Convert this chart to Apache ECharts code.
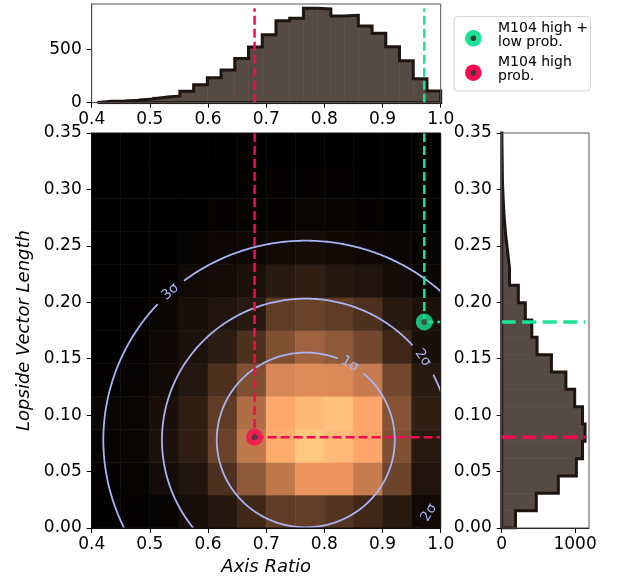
<!DOCTYPE html>
<html><head><meta charset="utf-8">
<script src="https://cdn.jsdelivr.net/npm/echarts@6/dist/echarts.min.js"></script>
<style>html,body{margin:0;padding:0;background:#fff}#c{width:617px;height:583px}</style>
</head><body><div id="c"></div>
<script>
// ---------------- data ----------------
const xBinStarts = [0.40,0.45,0.50,0.55,0.60,0.65,0.70,0.75,0.80,0.85,0.90,0.95];
const xBinWidth = 0.05;
const yBinStarts = [0,0.029167,0.058333,0.0875,0.116667,0.145833,0.175,0.204167,0.233333,0.2625,0.291667,0.320833];
const yBinWidth = 0.029167;
// normalised 2D density, rows from bottom (y=0) to top
const densityRow0  = [0.005,0.01,0.02,0.07,0.12,0.20,0.30,0.31,0.26,0.20,0.13,0.05];
const densityRow1  = [0.01,0.02,0.06,0.10,0.24,0.45,0.60,0.75,0.75,0.62,0.34,0.10];
const densityRow2  = [0.02,0.03,0.09,0.15,0.33,0.60,0.86,1.00,0.94,0.83,0.40,0.13];
const densityRow3  = [0.03,0.03,0.08,0.15,0.30,0.55,0.85,0.93,0.97,0.83,0.42,0.15];
const densityRow4  = [0.01,0.02,0.05,0.11,0.24,0.40,0.68,0.70,0.69,0.62,0.36,0.13];
const densityRow5  = [0.00,0.01,0.04,0.09,0.14,0.24,0.40,0.50,0.45,0.36,0.19,0.08];
const densityRow6  = [0.005,0.01,0.03,0.08,0.10,0.13,0.30,0.33,0.30,0.24,0.13,0.09];
const densityRow7  = [0,0.005,0.015,0.05,0.06,0.09,0.13,0.15,0.12,0.10,0.06,0.03];
const densityRow8  = [0,0,0.005,0.02,0.04,0.04,0.05,0.06,0.05,0.04,0.03,0.02];
const densityRow9  = [0,0,0,0.005,0.015,0.02,0.015,0.025,0.02,0.015,0.005,0.005];
const densityRow10 = [0,0,0,0,0.005,0.005,0.015,0.015,0.01,0.005,0,0];
const densityRow11 = [0,0,0,0,0,0,0.003,0.003,0,0,0,0];
const densityRows = [densityRow0,densityRow1,densityRow2,densityRow3,densityRow4,densityRow5,
  densityRow6,densityRow7,densityRow8,densityRow9,densityRow10,densityRow11];

const topHistEdges = [0.410,0.4336,0.4572,0.4808,0.5044,0.528,0.5516,0.5752,0.5988,0.6224,0.646,0.6696,
  0.6932,0.7168,0.7404,0.764,0.7876,0.8112,0.8348,0.8584,0.882,0.9056,0.9292,0.9528,0.9764,1.000];
const topHistCounts = [14,16,24,36,52,64,108,168,234,307,417,524,640,772,794,889,882,816,822,722,653,526,394,225,111];

const rightHistEdges = [0,0.01536,0.03072,0.04608,0.06144,0.0768,0.09216,0.10752,0.12288,0.13824,0.1536,
  0.16896,0.18432,0.19968,0.21504,0.2304,0.24576,0.26112,0.27648,0.29184,0.3072,0.32256,0.33792,0.35328,0.36864];
const rightHistCounts = [188,472,772,1018,1102,1136,1102,995,875,678,482,410,322,227,106,79,52,32,20,10,7,4,2,1];

const pointHighLow = [0.9718, 0.1825];   // M104 high + low prob.
const pointHigh = [0.68, 0.0804];        // M104 high prob.
const seriesNames = ['M104 high +\nlow prob.', 'M104 high\nprob.'];

const contourCenter = [0.768, 0.078];
const contourLevels = ['1σ','2σ','3σ'];
const contourRx = [0.153, 0.2472, 0.348];
const contourRy = [0.0774, 0.1252, 0.1766];
const contourLabelAngles = [[60.4],[35.5,-31],[132]];
const contourGaps = [[[49.5,69]],[[27.7,42],[-38.5,-20]],[[127,137]]];

const axisRatioTicks = [0.4,0.5,0.6,0.7,0.8,0.9,1.0];
const lopsideTicks = [0,0.05,0.10,0.15,0.20,0.25,0.30,0.35];
const topCountTicks = [0,500];
const rightCountTicks = [0,1000];

// ---------------- styling / layout ----------------
const FONT = 'DejaVu Sans';
const RED = '#f70b50', GREEN = '#1ae394', CONTOUR = '#a9b3f3';
const HIST_FILL = '#564a44', HIST_EDGE = '#1c1512';
const G = {
  main:  {left:91.7, top:133, width:349, height:395},
  top:   {left:91.7, top:4, width:349, height:98.7},
  right: {left:501.7, top:133, width:87.3, height:395}
};
const boxOf = g => ({x:g.left, y:g.top, width:g.width, height:g.height});

function copper(v){
  v = Math.max(0, Math.min(1, v));
  const r = Math.round(255*Math.min(1, 1.25*v)), g = Math.round(255*0.7812*v), b = Math.round(255*0.4975*v);
  return 'rgb('+r+','+g+','+b+')';
}

function axis(extra){
  const base = {
    type:'value',
    axisLine:{show:true, onZero:false, lineStyle:{color:'#000', width:1}},
    axisTick:{show:true, inside:false, length:5, lineStyle:{color:'#000', width:1}},
    axisLabel:{color:'#000', fontSize:17, fontFamily:FONT, margin:8},
    splitLine:{show:false}
  };
  const o = Object.assign({}, base, extra);
  o.axisTick = Object.assign({}, base.axisTick, extra.axisTick||{});
  o.axisLabel = Object.assign({}, base.axisLabel, extra.axisLabel||{});
  return o;
}

function clipTo(params){
  const cs = params.coordSys;
  return {type:'rect', shape:{x:cs.x, y:cs.y, width:cs.width, height:cs.height}};
}

// heatmap cells
const cellData = [];
densityRows.forEach((row, j) => row.forEach((v, i) => cellData.push([xBinStarts[i], yBinStarts[j], v])));

// histogram outlines
const topOutline = [[topHistEdges[0], 0]];
topHistCounts.forEach((c, i) => { topOutline.push([topHistEdges[i], c]); topOutline.push([topHistEdges[i+1], c]); });
topOutline.push([topHistEdges[topHistEdges.length-1], 0]);
topOutline.push([topHistEdges[0], 0]);

const rightOutline = [[0, rightHistEdges[0]]];
rightHistCounts.forEach((c, i) => { rightOutline.push([c, rightHistEdges[i]]); rightOutline.push([c, rightHistEdges[i+1]]); });
rightOutline.push([0, rightHistEdges[rightHistEdges.length-1]]);
rightOutline.push([0, rightHistEdges[0]]);

const topFillData = topHistCounts.map((c, i) => [topHistEdges[i], topHistEdges[i+1], c]);
const rightFillData = rightHistCounts.map((c, i) => [rightHistEdges[i], rightHistEdges[i+1], c]);

const topMax = Math.max(...topHistCounts), rightMax = Math.max(...rightHistCounts);

function dashed(name, data, color, xi, yi, width, dash){
  return {type:'line', name, xAxisIndex:xi, yAxisIndex:yi, data, symbol:'none', silent:true, clip:true,
    lineStyle:{color, width, type:dash}, z:5, animation:false};
}

const option = {
  animation:false,
  grid:[
    Object.assign({containLabel:false}, G.main),
    Object.assign({containLabel:false}, G.top),
    Object.assign({containLabel:false}, G.right)
  ],
  xAxis:[
    axis({gridIndex:0, min:0.4, max:1.0,
      axisTick:{customValues:axisRatioTicks},
      axisLabel:{customValues:axisRatioTicks, formatter:v=>v.toFixed(1)},
      name:'Axis Ratio', nameLocation:'middle', nameGap:30,
      nameTextStyle:{fontStyle:'italic', fontSize:18, fontFamily:FONT, color:'#000'}}),
    axis({gridIndex:1, min:0.4, max:1.0,
      axisTick:{customValues:axisRatioTicks},
      axisLabel:{customValues:axisRatioTicks, formatter:v=>v.toFixed(1)}}),
    axis({gridIndex:2, min:0, max:1190,
      axisTick:{customValues:rightCountTicks},
      axisLabel:{customValues:rightCountTicks, formatter:v=>String(v)}})
  ],
  yAxis:[
    axis({gridIndex:0, min:0, max:0.35,
      axisTick:{customValues:lopsideTicks},
      axisLabel:{customValues:lopsideTicks, formatter:v=>v.toFixed(2), margin:10},
      name:'Lopside Vector Length', nameLocation:'middle', nameRotate:90, nameGap:57,
      nameTextStyle:{fontStyle:'italic', fontSize:18, fontFamily:FONT, color:'#000'}}),
    axis({gridIndex:1, min:0, max:929,
      axisTick:{customValues:topCountTicks},
      axisLabel:{customValues:topCountTicks, formatter:v=>String(v), margin:10}}),
    axis({gridIndex:2, min:0, max:0.35,
      axisTick:{customValues:lopsideTicks},
      axisLabel:{customValues:lopsideTicks, formatter:v=>v.toFixed(2), margin:10}})
  ],
  series:[
    { // heatmap
      type:'custom', xAxisIndex:0, yAxisIndex:0, data:cellData, silent:true, z:1, clip:true,
      renderItem:(params, api) => {
        const x0 = api.value(0), y0 = api.value(1), v = api.value(2);
        const p0 = api.coord([x0, y0]), p1 = api.coord([x0 + xBinWidth, y0 + yBinWidth]);
        const col = copper(v);
        return {type:'rect', shape:{x:p0[0], y:p1[1], width:p1[0]-p0[0], height:p0[1]-p1[1]},
          style:{fill:col, stroke:col, lineWidth:0.6}};
      }
    },
    { // contours
      type:'custom', xAxisIndex:0, yAxisIndex:0, silent:true, z:3,
      data: contourLevels.map((l, k) => [contourCenter[0], contourCenter[1], k]),
      renderItem:(params, api) => {
        const k = api.value(2);
        const c = api.coord(contourCenter);
        const ex = api.coord([contourCenter[0] + contourRx[k], contourCenter[1]]);
        const ey = api.coord([contourCenter[0], contourCenter[1] + contourRy[k]]);
        const rx = ex[0] - c[0], ry = c[1] - ey[1];
        const gaps = contourGaps[k];
        const children = [];
        let seg = [];
        const flush = () => { if (seg.length > 1) children.push({type:'polyline', shape:{points:seg},
          style:{stroke:CONTOUR, lineWidth:1.8, fill:null}}); seg = []; };
        for (let a = -180; a <= 180.001; a += 0.5) {
          if (gaps.some(g => a > g[0] && a < g[1])) { flush(); continue; }
          const r = a * Math.PI / 180;
          seg.push([c[0] + rx*Math.cos(r), c[1] - ry*Math.sin(r)]);
        }
        flush();
        contourLabelAngles[k].forEach(a => {
          const r = a * Math.PI / 180;
          let rot = a - 90;
          if (rot < -90) rot += 180;
          if (rot > 90) rot -= 180;
          children.push({type:'text', x:c[0] + rx*Math.cos(r), y:c[1] - ry*Math.sin(r),
            rotation: rot*Math.PI/180,
            style:{text:contourLevels[k], fill:CONTOUR, font:'14px "DejaVu Sans"', align:'center', verticalAlign:'middle'}});
        });
        return {type:'group', children, clipPath:clipTo(params)};
      }
    },
    dashed('redV', [[pointHigh[0], 0.35],[pointHigh[0], pointHigh[1]]], RED, 0, 0, 2.5, [9,4]),
    dashed('redH', [[pointHigh[0], pointHigh[1]],[1.0, pointHigh[1]]], RED, 0, 0, 2.5, [9,4]),
    dashed('greenV', [[pointHighLow[0], 0.35],[pointHighLow[0], pointHighLow[1]]], GREEN, 0, 0, 2.5, [9,4]),
    dashed('greenH', [[pointHighLow[0], pointHighLow[1]],[1.0, pointHighLow[1]]], GREEN, 0, 0, 2.5, [9,4]),
    { type:'scatter', name:seriesNames[0], xAxisIndex:0, yAxisIndex:0, data:[pointHighLow], symbol:'circle', symbolSize:17,
      itemStyle:{color:GREEN}, z:8, silent:true },
    { type:'scatter', name:seriesNames[1], xAxisIndex:0, yAxisIndex:0, data:[pointHigh], symbol:'circle', symbolSize:17,
      itemStyle:{color:RED}, z:8, silent:true },
    { type:'scatter', xAxisIndex:0, yAxisIndex:0, data:[pointHighLow, pointHigh], symbol:'circle', symbolSize:6,
      itemStyle:{color:'#3a3a3a'}, z:9, silent:true },
    // top histogram
    { type:'custom', xAxisIndex:1, yAxisIndex:1, data:topFillData, silent:true, z:2, clip:true,
      renderItem:(params, api) => {
        const p0 = api.coord([api.value(0), 0]), p1 = api.coord([api.value(1), api.value(2)]);
        return {type:'rect', shape:{x:p0[0], y:p1[1], width:p1[0]-p0[0], height:p0[1]-p1[1]},
          style:{fill:HIST_FILL, stroke:HIST_FILL, lineWidth:0.6}, clipPath:clipTo(params)};
      }},
    { type:'line', xAxisIndex:1, yAxisIndex:1, data:topOutline, symbol:'none', silent:true, z:3, clip:true,
      lineStyle:{color:HIST_EDGE, width:3, join:'miter'} },
    dashed('redTop', [[pointHigh[0], 0],[pointHigh[0], topMax]], RED, 1, 1, 2.5, [9,4]),
    dashed('greenTop', [[pointHighLow[0], 0],[pointHighLow[0], topMax]], GREEN, 1, 1, 2.5, [9,4]),
    // right histogram
    { type:'custom', xAxisIndex:2, yAxisIndex:2, data:rightFillData, silent:true, z:2, clip:true,
      renderItem:(params, api) => {
        const p0 = api.coord([0, api.value(0)]), p1 = api.coord([api.value(2), api.value(1)]);
        return {type:'rect', shape:{x:p0[0], y:p1[1], width:p1[0]-p0[0], height:p0[1]-p1[1]},
          style:{fill:HIST_FILL, stroke:HIST_FILL, lineWidth:0.6}, clipPath:clipTo(params)};
      }},
    { type:'line', xAxisIndex:2, yAxisIndex:2, data:rightOutline, symbol:'none', silent:true, z:3, clip:true,
      lineStyle:{color:HIST_EDGE, width:3, join:'miter'} },
    dashed('redRight', [[0, pointHigh[1]],[rightMax, pointHigh[1]]], RED, 2, 2, 3.5, [14,6.5]),
    dashed('greenRight', [[0, pointHighLow[1]],[rightMax, pointHighLow[1]]], GREEN, 2, 2, 3.5, [14,6.5])
  ],
  graphic:[
    {type:'rect', shape:boxOf(G.main), style:{fill:null, stroke:'#111', lineWidth:1}, z:50, silent:true},
    {type:'rect', shape:boxOf(G.top), style:{fill:null, stroke:'#555', lineWidth:1}, z:50, silent:true},
    {type:'rect', shape:boxOf(G.right), style:{fill:null, stroke:'#555', lineWidth:1}, z:50, silent:true},
    {type:'rect', shape:{x:454, y:16.5, width:136.5, height:74.5, r:4}, style:{fill:'#fff', stroke:'#d4d4d4', lineWidth:1}, z:100, silent:true},
    {type:'circle', shape:{cx:473.3, cy:38.3, r:8.3}, style:{fill:GREEN}, z:101, silent:true},
    {type:'circle', shape:{cx:473.3, cy:38.3, r:2.8}, style:{fill:'#3a3a3a'}, z:102, silent:true},
    {type:'circle', shape:{cx:473.3, cy:72.7, r:8.3}, style:{fill:RED}, z:101, silent:true},
    {type:'circle', shape:{cx:473.3, cy:72.7, r:2.8}, style:{fill:'#3a3a3a'}, z:102, silent:true},
    {type:'text', x:498, y:21, style:{text:seriesNames[0], font:'14px "DejaVu Sans"', fill:'#000', lineHeight:14, verticalAlign:'top'}, z:101, silent:true},
    {type:'text', x:498, y:55, style:{text:seriesNames[1], font:'14px "DejaVu Sans"', fill:'#000', lineHeight:14, verticalAlign:'top'}, z:101, silent:true}
  ]
};

const chart = echarts.init(document.getElementById('c'), null, {renderer:'canvas'});
chart.setOption(option);
</script>
</body></html>
